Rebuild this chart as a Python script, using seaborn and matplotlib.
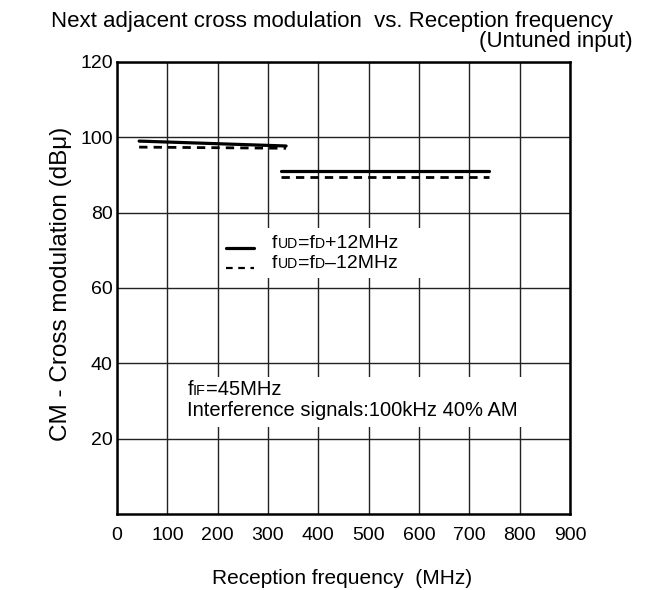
import matplotlib
matplotlib.use("Agg")
import matplotlib.pyplot as plt
from matplotlib.patches import Rectangle
from matplotlib.offsetbox import TextArea, HPacker, AnnotationBbox
import seaborn as sns
import pandas as pd

# ================= data =================
freq_low = [44, 336]
cm_plus_low = [99.0, 97.7]
cm_minus_low = [97.4, 97.1]

freq_high = [326, 740]
cm_plus_high = [91.1, 91.1]
cm_minus_high = [89.5, 89.5]

x_ticks = [0, 100, 200, 300, 400, 500, 600, 700, 800, 900]
y_ticks = [20, 40, 60, 80, 100, 120]

# ================= style =================
sns.set_style("white")
plt.rcParams['font.family'] = ['Liberation Sans', 'DejaVu Sans']
plt.rcParams['text.color'] = 'black'
plt.rcParams['axes.labelcolor'] = 'black'
plt.rcParams['xtick.color'] = 'black'
plt.rcParams['ytick.color'] = 'black'

fig = plt.figure(figsize=(6.46, 5.9), dpi=100)
# axes box: x 117..570 px, y 62..514 px
ax = fig.add_axes([117 / 646, 1 - 514 / 590, 453 / 646, 452 / 590])

segments = [
    (freq_low, cm_plus_low, '-'),
    (freq_low, cm_minus_low, '--'),
    (freq_high, cm_plus_high, '-'),
    (freq_high, cm_minus_high, '--'),
]
for xs, ys, ls in segments:
    df = pd.DataFrame({'f': xs, 'cm': ys})
    line_kw = dict(dashes=(3, 2.2)) if ls == '--' else {}
    sns.lineplot(data=df, x='f', y='cm', ax=ax, color='black',
                 linewidth=2 if ls == '--' else 2.3, zorder=3, **line_kw)

ax.set_xlim(0, 900)
ax.set_ylim(0, 120)
ax.set_xticks(x_ticks)
ax.set_yticks(y_ticks)
ax.set_xticklabels([str(v) for v in x_ticks], fontsize=14)
ax.set_yticklabels([str(v) for v in y_ticks], fontsize=14)
ax.tick_params(length=0)
ax.tick_params(axis='x', pad=9)
ax.tick_params(axis='y', pad=3)
ax.grid(True, color='#222222', linewidth=1)
for sp in ax.spines.values():
    sp.set_visible(True)
    sp.set_color('black')
    sp.set_linewidth(1.8)

ax.set_xlabel('Reception frequency  (MHz)', fontsize=15)
ax.xaxis.set_label_coords(0.497, -0.122)
ax.set_ylabel('CM - Cross modulation (dB\u03bc)', fontsize=17.5)
ax.yaxis.set_label_coords(-0.099, 0.509)

# white patches that hide the grid behind the notes
ax.add_patch(Rectangle((209, 62.6), 433, 13.3, facecolor='white',
                       edgecolor='none', zorder=1))
ax.add_patch(Rectangle((105, 23.1), 745, 13.3, facecolor='white',
                       edgecolor='none', zorder=1))


def small_caps_label(parts, x, y, size):
    # parts: (text, is_small) pieces sitting on a common baseline
    boxes = [TextArea(t, textprops=dict(fontsize=size * 0.72 if small else size,
                                        color='black'))
             for t, small in parts]
    pack = HPacker(children=boxes, align='baseline', pad=0, sep=0)
    ab = AnnotationBbox(pack, (x, y), xycoords='data', frameon=False,
                        box_alignment=(0, 0.5), pad=0, zorder=4)
    ax.add_artist(ab)


# legend drawn as in the datasheet
ax.plot([217, 272], [70.7, 70.7], color='black', linewidth=2.3, zorder=3)
ax.plot([217, 272], [65.4, 65.4], color='black', linewidth=1.6,
        dashes=(3, 2.5), zorder=3)
small_caps_label([('f', False), ('UD', True), ('=f', False), ('D', True),
                  ('+12MHz', False)], 308, 71.9, 14)
small_caps_label([('f', False), ('UD', True), ('=f', False), ('D', True),
                  ('\u201312MHz', False)], 308, 66.4, 14)

# measurement conditions
small_caps_label([('f', False), ('IF', True), ('=45MHz', False)], 140, 33.0, 14.5)
ax.text(140, 27.5, 'Interference signals:100kHz 40% AM', fontsize=14.5,
        va='center', zorder=4)

fig.text(0.514, 1 - 21 / 590, 'Next adjacent cross modulation  vs. Reception frequency',
         fontsize=16, ha='center', va='center')
fig.text(633 / 646, 1 - 42 / 590, '(Untuned input)', fontsize=16,
         ha='right', va='center')

plt.savefig('out.png', dpi=100)
